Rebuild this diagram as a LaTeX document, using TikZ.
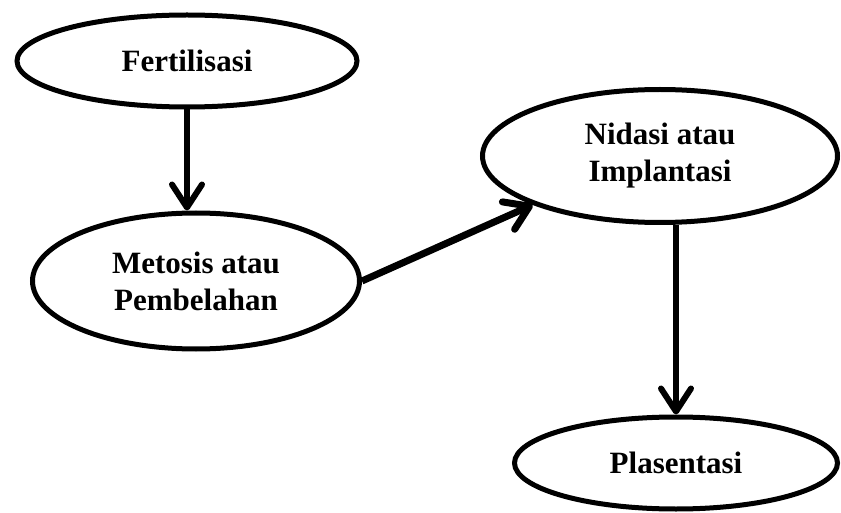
\documentclass[tikz,border=0pt]{standalone}
\usepackage{fontspec}
\setmainfont{Liberation Serif}
\usetikzlibrary{shapes.geometric, arrows.meta}

\begin{document}
\begin{tikzpicture}[x=1pt,y=-1pt]
	
	\tikzset{stage/.style 2 args={
			ellipse, draw,
			line width=5pt,
			minimum width=#1,
			minimum height=#2,
			inner sep=0pt,
			align=center,
			font=\fontsize{31}{37}\selectfont\bfseries
		},
		flow/.style={line width=6pt, -{Straight Barb[length=23pt,width=30pt,round]}}
	}
	
	\useasboundingbox (0,0) rectangle (841,513);
	
	\node[stage={340pt}{92pt}] (fert) at (187,61) {Fertilisasi};
	\node[stage={327pt}{136pt}] (metosis) at (196,281) {Metosis atau\\Pembelahan};
	\node[stage={355pt}{133pt}] (nidasi) at (660,156) {Nidasi atau\\Implantasi};
	\node[stage={323pt}{92pt}] (plasenta) at (676,463) {Plasentasi};
	
	\draw[flow] (fert.south) -- (fert.south |- metosis.north);
	\draw[flow, line width=7pt] (metosis.east) -- (nidasi.south west);
	\draw[flow] (plasenta.north |- nidasi.south) -- (plasenta.north);
	
\end{tikzpicture}
\end{document}
